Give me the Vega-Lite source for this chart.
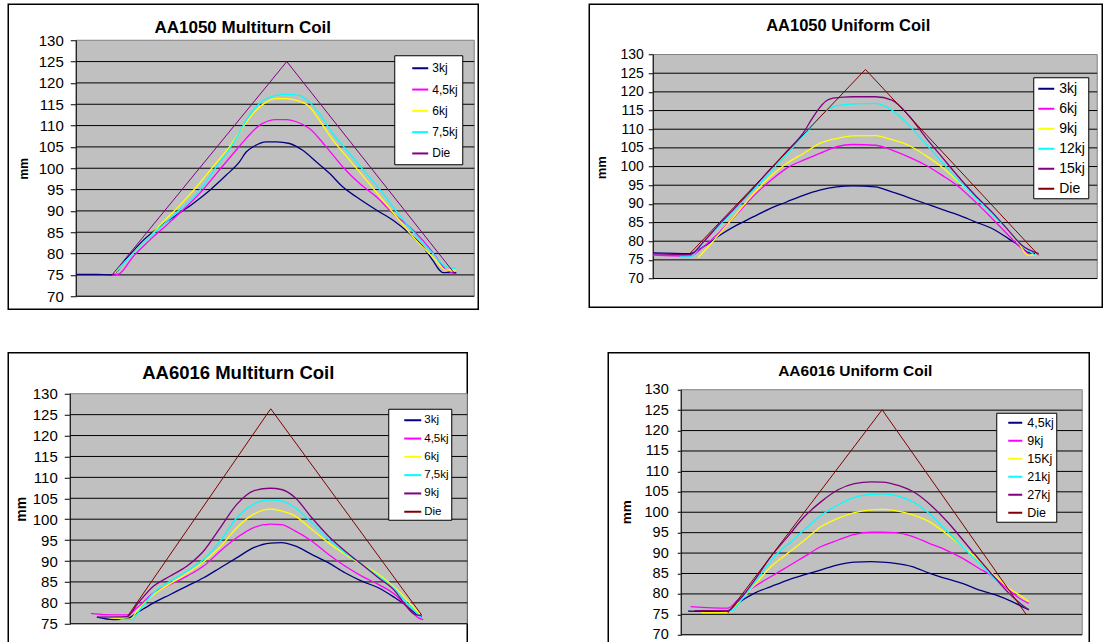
{
"$schema":"https://vega.github.io/schema/vega-lite/v6.json",
"background":"white",
"padding":{"left":7.25,"top":3.25,"right":0,"bottom":0},
"spacing":41.5,
"resolve":{"scale":{"color":"independent"}},
"config":{"view":{"stroke":"black","strokeWidth":1.5,"fill":"white"},
"axisY":{"labelOverlap":false,"tickCount":20,"grid":false,"domain":false,"tickColor":"black","labelColor":"black","labelFont":"Liberation Sans","titleFont":"Liberation Sans","titleFontWeight":"bold","titleColor":"black","titleAngle":270,"titleAlign":"center","titleBaseline":"middle"}},
"datasets":{
"g70":[{"g":75},{"g":80},{"g":85},{"g":90},{"g":95},{"g":100},{"g":105},{"g":110},{"g":115},{"g":120},{"g":125}],
"g75":[{"g":80},{"g":85},{"g":90},{"g":95},{"g":100},{"g":105},{"g":110},{"g":115},{"g":120},{"g":125}],
"p1":[
{"s":"3kj","x":0,"y":75.1},{"s":"3kj","x":5,"y":75.1},{"s":"3kj","x":9.0,"y":75.0},{"s":"3kj","x":12.6,"y":78.8},{"s":"3kj","x":16.8,"y":83.1},{"s":"3kj","x":20.9,"y":86.25},{"s":"3kj","x":25.1,"y":89.0},{"s":"3kj","x":29.3,"y":91.7},{"s":"3kj","x":33.5,"y":94.8},{"s":"3kj","x":37.7,"y":98.4},{"s":"3kj","x":41.0,"y":101.5},{"s":"3kj","x":42.7,"y":103.8},{"s":"3kj","x":44.4,"y":105.0},{"s":"3kj","x":47.7,"y":106.2},{"s":"3kj","x":50.25,"y":106.2},{"s":"3kj","x":53.6,"y":105.8},{"s":"3kj","x":56.9,"y":104.2},{"s":"3kj","x":60.3,"y":101.5},{"s":"3kj","x":63.7,"y":98.75},{"s":"3kj","x":67.0,"y":95.6},{"s":"3kj","x":70.35,"y":93.3},{"s":"3kj","x":75.4,"y":90.2},{"s":"3kj","x":79.6,"y":87.8},{"s":"3kj","x":83.75,"y":84.7},{"s":"3kj","x":87.1,"y":81.6},{"s":"3kj","x":89.6,"y":78.4},{"s":"3kj","x":91.3,"y":76.1},{"s":"3kj","x":92.1,"y":75.55},{"s":"3kj","x":95.5,"y":75.55},
{"s":"4,5kj","x":9.0,"y":74.85},{"s":"4,5kj","x":10.9,"y":75.3},{"s":"4,5kj","x":14.2,"y":79.2},{"s":"4,5kj","x":18.4,"y":83.1},{"s":"4,5kj","x":22.6,"y":86.6},{"s":"4,5kj","x":26.8,"y":90.2},{"s":"4,5kj","x":31.0,"y":94.1},{"s":"4,5kj","x":35.2,"y":98.75},{"s":"4,5kj","x":39.4,"y":103.4},{"s":"4,5kj","x":42.7,"y":107.0},{"s":"4,5kj","x":46.1,"y":110.1},{"s":"4,5kj","x":50.25,"y":111.4},{"s":"4,5kj","x":52.8,"y":111.4},{"s":"4,5kj","x":55.3,"y":110.9},{"s":"4,5kj","x":58.6,"y":109.3},{"s":"4,5kj","x":62.8,"y":105.0},{"s":"4,5kj","x":67.0,"y":100.3},{"s":"4,5kj","x":71.2,"y":96.4},{"s":"4,5kj","x":75.4,"y":93.3},{"s":"4,5kj","x":79.6,"y":89.4},{"s":"4,5kj","x":83.75,"y":86.25},{"s":"4,5kj","x":87.1,"y":83.1},{"s":"4,5kj","x":90.45,"y":79.2},{"s":"4,5kj","x":93.0,"y":76.1},{"s":"4,5kj","x":95.5,"y":75.3},
{"s":"6kj","x":9.6,"y":75.3},{"s":"6kj","x":13.4,"y":79.2},{"s":"6kj","x":17.6,"y":83.1},{"s":"6kj","x":21.8,"y":87.4},{"s":"6kj","x":26.0,"y":91.3},{"s":"6kj","x":30.2,"y":95.6},{"s":"6kj","x":34.3,"y":100.3},{"s":"6kj","x":38.5,"y":105.0},{"s":"6kj","x":41.9,"y":109.7},{"s":"6kj","x":45.2,"y":113.6},{"s":"6kj","x":47.7,"y":115.5},{"s":"6kj","x":50.25,"y":116.3},{"s":"6kj","x":52.8,"y":116.3},{"s":"6kj","x":55.3,"y":115.9},{"s":"6kj","x":58.6,"y":114.4},{"s":"6kj","x":61.1,"y":111.25},{"s":"6kj","x":64.5,"y":106.6},{"s":"6kj","x":68.7,"y":101.9},{"s":"6kj","x":72.9,"y":97.2},{"s":"6kj","x":77.05,"y":92.5},{"s":"6kj","x":81.2,"y":87.8},{"s":"6kj","x":85.4,"y":83.1},{"s":"6kj","x":89.6,"y":79.2},{"s":"6kj","x":93.0,"y":76.1},{"s":"6kj","x":95.5,"y":76.1},
{"s":"7,5kj","x":10.05,"y":75.7},{"s":"7,5kj","x":14.2,"y":80.0},{"s":"7,5kj","x":18.4,"y":83.9},{"s":"7,5kj","x":22.6,"y":87.4},{"s":"7,5kj","x":26.8,"y":90.9},{"s":"7,5kj","x":31.0,"y":94.8},{"s":"7,5kj","x":35.2,"y":100.3},{"s":"7,5kj","x":39.4,"y":105.8},{"s":"7,5kj","x":42.7,"y":111.25},{"s":"7,5kj","x":45.2,"y":114.4},{"s":"7,5kj","x":47.7,"y":116.3},{"s":"7,5kj","x":50.25,"y":117.1},{"s":"7,5kj","x":52.8,"y":117.3},{"s":"7,5kj","x":56.1,"y":117.1},{"s":"7,5kj","x":58.6,"y":115.5},{"s":"7,5kj","x":61.1,"y":112.8},{"s":"7,5kj","x":64.5,"y":108.1},{"s":"7,5kj","x":68.7,"y":103.4},{"s":"7,5kj","x":72.9,"y":98.75},{"s":"7,5kj","x":77.05,"y":94.1},{"s":"7,5kj","x":81.2,"y":89.0},{"s":"7,5kj","x":85.4,"y":84.3},{"s":"7,5kj","x":89.6,"y":80.0},{"s":"7,5kj","x":93.0,"y":76.9},{"s":"7,5kj","x":95.5,"y":76.5},
{"s":"Die","x":9.0,"y":75.0},{"s":"Die","x":52.9,"y":125.0},{"s":"Die","x":95.1,"y":75.3}
],
"p2":[
{"s":"3kj","x":0,"y":76.9},{"s":"3kj","x":8.26,"y":76.7},{"s":"3kj","x":11.3,"y":78.5},{"s":"3kj","x":15.0,"y":81.6},{"s":"3kj","x":18.8,"y":84.3},{"s":"3kj","x":22.5,"y":86.5},{"s":"3kj","x":26.3,"y":88.75},{"s":"3kj","x":30.0,"y":90.5},{"s":"3kj","x":33.8,"y":92.3},{"s":"3kj","x":37.5,"y":93.7},{"s":"3kj","x":41.3,"y":94.55},{"s":"3kj","x":45.0,"y":94.8},{"s":"3kj","x":50.0,"y":94.55},{"s":"3kj","x":53.75,"y":93.2},{"s":"3kj","x":57.5,"y":91.7},{"s":"3kj","x":61.3,"y":90.1},{"s":"3kj","x":65.0,"y":88.5},{"s":"3kj","x":68.8,"y":87.0},{"s":"3kj","x":72.5,"y":85.2},{"s":"3kj","x":76.3,"y":83.4},{"s":"3kj","x":80.0,"y":80.7},{"s":"3kj","x":82.3,"y":78.9},{"s":"3kj","x":84.2,"y":77.1},{"s":"3kj","x":86.0,"y":76.7},
{"s":"6kj","x":0,"y":76.3},{"s":"6kj","x":8.26,"y":76.0},{"s":"6kj","x":11.3,"y":78.5},{"s":"6kj","x":15.0,"y":82.5},{"s":"6kj","x":18.8,"y":87.2},{"s":"6kj","x":22.5,"y":92.0},{"s":"6kj","x":26.3,"y":96.1},{"s":"6kj","x":30.0,"y":99.5},{"s":"6kj","x":33.8,"y":101.7},{"s":"6kj","x":37.5,"y":103.5},{"s":"6kj","x":41.3,"y":105.3},{"s":"6kj","x":45.0,"y":105.9},{"s":"6kj","x":50.0,"y":105.7},{"s":"6kj","x":53.75,"y":104.4},{"s":"6kj","x":57.5,"y":102.6},{"s":"6kj","x":61.3,"y":100.4},{"s":"6kj","x":65.0,"y":97.7},{"s":"6kj","x":68.8,"y":94.6},{"s":"6kj","x":72.5,"y":90.6},{"s":"6kj","x":76.3,"y":86.1},{"s":"6kj","x":80.0,"y":81.6},{"s":"6kj","x":83.0,"y":78.0},{"s":"6kj","x":84.9,"y":76.3},
{"s":"9kj","x":10.1,"y":75.6},{"s":"9kj","x":12.4,"y":78.5},{"s":"9kj","x":15.0,"y":82.1},{"s":"9kj","x":18.8,"y":87.4},{"s":"9kj","x":22.5,"y":92.6},{"s":"9kj","x":26.3,"y":97.2},{"s":"9kj","x":30.0,"y":100.8},{"s":"9kj","x":33.8,"y":103.5},{"s":"9kj","x":37.5,"y":106.2},{"s":"9kj","x":41.3,"y":107.5},{"s":"9kj","x":45.0,"y":108.2},{"s":"9kj","x":50.0,"y":108.3},{"s":"9kj","x":53.75,"y":107.2},{"s":"9kj","x":57.5,"y":105.7},{"s":"9kj","x":61.3,"y":103.0},{"s":"9kj","x":65.0,"y":99.9},{"s":"9kj","x":68.8,"y":95.9},{"s":"9kj","x":72.5,"y":91.9},{"s":"9kj","x":76.3,"y":87.4},{"s":"9kj","x":80.0,"y":82.9},{"s":"9kj","x":82.3,"y":79.4},{"s":"9kj","x":84.5,"y":76.25},{"s":"9kj","x":86.0,"y":76.25},
{"s":"12kj","x":6.0,"y":75.8},{"s":"12kj","x":8.26,"y":75.8},{"s":"12kj","x":11.3,"y":79.8},{"s":"12kj","x":15.0,"y":84.4},{"s":"12kj","x":18.8,"y":89.0},{"s":"12kj","x":22.5,"y":93.7},{"s":"12kj","x":26.3,"y":98.4},{"s":"12kj","x":30.0,"y":103.3},{"s":"12kj","x":33.8,"y":108.2},{"s":"12kj","x":37.5,"y":113.3},{"s":"12kj","x":39.4,"y":115.3},{"s":"12kj","x":41.3,"y":116.3},{"s":"12kj","x":45.0,"y":116.8},{"s":"12kj","x":50.0,"y":116.9},{"s":"12kj","x":53.75,"y":115.1},{"s":"12kj","x":57.5,"y":111.1},{"s":"12kj","x":61.3,"y":106.2},{"s":"12kj","x":65.0,"y":101.25},{"s":"12kj","x":68.8,"y":96.3},{"s":"12kj","x":72.5,"y":91.9},{"s":"12kj","x":76.3,"y":87.4},{"s":"12kj","x":80.0,"y":82.9},{"s":"12kj","x":83.0,"y":78.9},{"s":"12kj","x":86.0,"y":76.25},
{"s":"15kj","x":0,"y":76.7},{"s":"15kj","x":8.26,"y":76.4},{"s":"15kj","x":11.3,"y":79.8},{"s":"15kj","x":15.0,"y":84.7},{"s":"15kj","x":18.8,"y":89.4},{"s":"15kj","x":22.5,"y":94.2},{"s":"15kj","x":26.3,"y":99.2},{"s":"15kj","x":30.0,"y":104.0},{"s":"15kj","x":33.8,"y":109.0},{"s":"15kj","x":35.6,"y":112.5},{"s":"15kj","x":37.5,"y":115.8},{"s":"15kj","x":39.0,"y":117.6},{"s":"15kj","x":40.5,"y":118.3},{"s":"15kj","x":45.0,"y":118.7},{"s":"15kj","x":50.0,"y":118.7},{"s":"15kj","x":53.75,"y":117.8},{"s":"15kj","x":57.5,"y":113.75},{"s":"15kj","x":61.3,"y":107.9},{"s":"15kj","x":65.0,"y":102.6},{"s":"15kj","x":68.8,"y":97.2},{"s":"15kj","x":72.5,"y":92.3},{"s":"15kj","x":76.3,"y":87.8},{"s":"15kj","x":80.0,"y":82.9},{"s":"15kj","x":83.0,"y":78.9},{"s":"15kj","x":86.8,"y":76.7},
{"s":"Die","x":8.26,"y":76.7},{"s":"Die","x":47.8,"y":126.0},{"s":"Die","x":86.8,"y":76.25}
],
"p3":[
{"s":"3kj","x":6.7,"y":76.6},{"s":"3kj","x":10.9,"y":76.0},{"s":"3kj","x":14.3,"y":76.2},{"s":"3kj","x":16.8,"y":77.6},{"s":"3kj","x":21.0,"y":80.0},{"s":"3kj","x":25.2,"y":82.0},{"s":"3kj","x":29.4,"y":84.0},{"s":"3kj","x":33.6,"y":86.0},{"s":"3kj","x":37.8,"y":88.4},{"s":"3kj","x":42.0,"y":90.8},{"s":"3kj","x":46.2,"y":93.2},{"s":"3kj","x":50.4,"y":94.3},{"s":"3kj","x":53.2,"y":94.4},{"s":"3kj","x":56.6,"y":93.6},{"s":"3kj","x":60.8,"y":91.6},{"s":"3kj","x":65.0,"y":89.6},{"s":"3kj","x":69.2,"y":87.2},{"s":"3kj","x":73.4,"y":85.2},{"s":"3kj","x":77.6,"y":83.6},{"s":"3kj","x":81.8,"y":81.2},{"s":"3kj","x":84.3,"y":79.6},{"s":"3kj","x":86.8,"y":77.6},{"s":"3kj","x":88.5,"y":76.6},
{"s":"4,5kj","x":5.2,"y":77.5},{"s":"4,5kj","x":8.4,"y":77.2},{"s":"4,5kj","x":14.3,"y":77.1},{"s":"4,5kj","x":16.8,"y":78.8},{"s":"4,5kj","x":21.0,"y":82.4},{"s":"4,5kj","x":25.2,"y":84.4},{"s":"4,5kj","x":29.4,"y":86.4},{"s":"4,5kj","x":33.6,"y":88.8},{"s":"4,5kj","x":37.8,"y":92.4},{"s":"4,5kj","x":42.0,"y":95.6},{"s":"4,5kj","x":46.2,"y":98.0},{"s":"4,5kj","x":50.4,"y":98.8},{"s":"4,5kj","x":53.2,"y":98.7},{"s":"4,5kj","x":56.6,"y":97.2},{"s":"4,5kj","x":60.8,"y":94.8},{"s":"4,5kj","x":65.0,"y":91.6},{"s":"4,5kj","x":69.2,"y":88.8},{"s":"4,5kj","x":73.4,"y":86.4},{"s":"4,5kj","x":77.6,"y":84.4},{"s":"4,5kj","x":81.8,"y":82.0},{"s":"4,5kj","x":85.1,"y":78.8},{"s":"4,5kj","x":87.7,"y":76.4},{"s":"4,5kj","x":88.9,"y":76.0},
{"s":"6kj","x":9.2,"y":76.6},{"s":"6kj","x":15.1,"y":76.1},{"s":"6kj","x":16.8,"y":78.0},{"s":"6kj","x":21.0,"y":82.0},{"s":"6kj","x":25.2,"y":84.6},{"s":"6kj","x":29.4,"y":87.0},{"s":"6kj","x":33.6,"y":89.8},{"s":"6kj","x":37.8,"y":93.4},{"s":"6kj","x":42.0,"y":98.0},{"s":"6kj","x":46.2,"y":101.2},{"s":"6kj","x":50.4,"y":102.4},{"s":"6kj","x":53.2,"y":102.0},{"s":"6kj","x":56.6,"y":100.8},{"s":"6kj","x":60.8,"y":97.6},{"s":"6kj","x":65.0,"y":94.4},{"s":"6kj","x":69.2,"y":91.6},{"s":"6kj","x":73.4,"y":89.2},{"s":"6kj","x":77.6,"y":86.8},{"s":"6kj","x":81.8,"y":83.6},{"s":"6kj","x":85.1,"y":80.4},{"s":"6kj","x":88.1,"y":77.2},
{"s":"7,5kj","x":12.6,"y":76.1},{"s":"7,5kj","x":15.5,"y":76.0},{"s":"7,5kj","x":17.6,"y":78.4},{"s":"7,5kj","x":21.0,"y":82.4},{"s":"7,5kj","x":25.2,"y":85.2},{"s":"7,5kj","x":29.4,"y":87.6},{"s":"7,5kj","x":33.6,"y":90.4},{"s":"7,5kj","x":37.8,"y":94.8},{"s":"7,5kj","x":42.0,"y":100.4},{"s":"7,5kj","x":46.2,"y":103.6},{"s":"7,5kj","x":50.4,"y":104.6},{"s":"7,5kj","x":53.2,"y":104.4},{"s":"7,5kj","x":56.6,"y":102.8},{"s":"7,5kj","x":60.8,"y":99.2},{"s":"7,5kj","x":65.0,"y":95.2},{"s":"7,5kj","x":69.2,"y":92.0},{"s":"7,5kj","x":73.4,"y":89.2},{"s":"7,5kj","x":77.6,"y":86.4},{"s":"7,5kj","x":81.8,"y":83.2},{"s":"7,5kj","x":85.1,"y":79.6},{"s":"7,5kj","x":88.5,"y":76.4},
{"s":"9kj","x":6.7,"y":76.6},{"s":"9kj","x":14.3,"y":76.7},{"s":"9kj","x":16.8,"y":79.6},{"s":"9kj","x":21.0,"y":84.0},{"s":"9kj","x":25.2,"y":86.4},{"s":"9kj","x":29.4,"y":88.8},{"s":"9kj","x":33.6,"y":92.4},{"s":"9kj","x":37.8,"y":98.0},{"s":"9kj","x":42.0,"y":103.6},{"s":"9kj","x":46.2,"y":106.8},{"s":"9kj","x":50.4,"y":107.4},{"s":"9kj","x":53.2,"y":107.1},{"s":"9kj","x":56.6,"y":105.2},{"s":"9kj","x":60.8,"y":100.4},{"s":"9kj","x":65.0,"y":96.0},{"s":"9kj","x":69.2,"y":92.4},{"s":"9kj","x":73.4,"y":89.2},{"s":"9kj","x":77.6,"y":86.0},{"s":"9kj","x":81.8,"y":82.8},{"s":"9kj","x":84.3,"y":79.6},{"s":"9kj","x":86.8,"y":77.2},{"s":"9kj","x":88.5,"y":77.0},
{"s":"Die","x":14.3,"y":76.6},{"s":"Die","x":50.5,"y":126.4},{"s":"Die","x":88.5,"y":77.1}
],
"p4":[
{"s":"4,5kj","x":1.7,"y":75.8},{"s":"4,5kj","x":11.6,"y":75.7},{"s":"4,5kj","x":14.1,"y":77.7},{"s":"4,5kj","x":18.3,"y":80.2},{"s":"4,5kj","x":22.4,"y":81.8},{"s":"4,5kj","x":26.6,"y":83.4},{"s":"4,5kj","x":30.8,"y":84.7},{"s":"4,5kj","x":34.9,"y":85.9},{"s":"4,5kj","x":39.1,"y":87.1},{"s":"4,5kj","x":43.2,"y":87.8},{"s":"4,5kj","x":47.4,"y":87.9},{"s":"4,5kj","x":50.1,"y":87.8},{"s":"4,5kj","x":53.4,"y":87.5},{"s":"4,5kj","x":57.6,"y":86.7},{"s":"4,5kj","x":61.8,"y":85.1},{"s":"4,5kj","x":65.9,"y":83.8},{"s":"4,5kj","x":70.1,"y":82.6},{"s":"4,5kj","x":74.2,"y":81.0},{"s":"4,5kj","x":78.4,"y":79.75},{"s":"4,5kj","x":82.5,"y":78.1},{"s":"4,5kj","x":85.0,"y":76.9},{"s":"4,5kj","x":86.7,"y":76.1},
{"s":"9kj","x":2.3,"y":76.9},{"s":"9kj","x":11.6,"y":76.5},{"s":"9kj","x":14.1,"y":78.5},{"s":"9kj","x":18.3,"y":81.8},{"s":"9kj","x":22.4,"y":84.25},{"s":"9kj","x":26.6,"y":86.7},{"s":"9kj","x":30.8,"y":89.2},{"s":"9kj","x":34.9,"y":91.6},{"s":"9kj","x":39.1,"y":93.2},{"s":"9kj","x":43.2,"y":94.6},{"s":"9kj","x":47.4,"y":95.1},{"s":"9kj","x":50.1,"y":95.1},{"s":"9kj","x":53.4,"y":95.0},{"s":"9kj","x":57.6,"y":94.1},{"s":"9kj","x":61.8,"y":92.4},{"s":"9kj","x":65.9,"y":90.8},{"s":"9kj","x":70.1,"y":88.75},{"s":"9kj","x":74.2,"y":86.3},{"s":"9kj","x":78.4,"y":83.8},{"s":"9kj","x":81.7,"y":81.0},{"s":"9kj","x":85.0,"y":78.5},{"s":"9kj","x":86.7,"y":77.7},
{"s":"15Kj","x":5.0,"y":75.4},{"s":"15Kj","x":11.6,"y":75.4},{"s":"15Kj","x":14.1,"y":77.7},{"s":"15Kj","x":18.3,"y":82.2},{"s":"15Kj","x":22.4,"y":86.7},{"s":"15Kj","x":26.6,"y":90.0},{"s":"15Kj","x":30.8,"y":93.2},{"s":"15Kj","x":34.9,"y":96.5},{"s":"15Kj","x":39.1,"y":98.5},{"s":"15Kj","x":43.2,"y":99.9},{"s":"15Kj","x":47.4,"y":100.6},{"s":"15Kj","x":50.1,"y":100.7},{"s":"15Kj","x":53.4,"y":100.4},{"s":"15Kj","x":57.6,"y":99.4},{"s":"15Kj","x":61.8,"y":97.7},{"s":"15Kj","x":65.9,"y":94.9},{"s":"15Kj","x":70.1,"y":91.6},{"s":"15Kj","x":74.2,"y":88.3},{"s":"15Kj","x":78.4,"y":84.25},{"s":"15Kj","x":81.7,"y":81.4},{"s":"15Kj","x":85.0,"y":79.3},{"s":"15Kj","x":86.7,"y":78.1},
{"s":"21kj","x":5.0,"y":76.1},{"s":"21kj","x":12.5,"y":75.9},{"s":"21kj","x":15.0,"y":78.5},{"s":"21kj","x":19.1,"y":83.8},{"s":"21kj","x":23.3,"y":89.2},{"s":"21kj","x":27.4,"y":92.8},{"s":"21kj","x":31.6,"y":96.5},{"s":"21kj","x":35.7,"y":99.8},{"s":"21kj","x":39.9,"y":102.2},{"s":"21kj","x":44.1,"y":103.9},{"s":"21kj","x":47.4,"y":104.4},{"s":"21kj","x":50.1,"y":104.5},{"s":"21kj","x":54.3,"y":103.9},{"s":"21kj","x":58.4,"y":102.2},{"s":"21kj","x":62.6,"y":99.0},{"s":"21kj","x":66.7,"y":94.9},{"s":"21kj","x":70.9,"y":90.8},{"s":"21kj","x":75.1,"y":86.7},{"s":"21kj","x":78.4,"y":83.4},{"s":"21kj","x":81.7,"y":80.2},{"s":"21kj","x":85.0,"y":77.3},{"s":"21kj","x":86.3,"y":76.5},
{"s":"27kj","x":3.3,"y":75.9},{"s":"27kj","x":11.6,"y":75.9},{"s":"27kj","x":14.1,"y":78.1},{"s":"27kj","x":18.3,"y":83.4},{"s":"27kj","x":22.4,"y":89.2},{"s":"27kj","x":26.6,"y":94.1},{"s":"27kj","x":30.8,"y":99.0},{"s":"27kj","x":34.9,"y":102.6},{"s":"27kj","x":39.1,"y":105.5},{"s":"27kj","x":43.2,"y":107.0},{"s":"27kj","x":47.4,"y":107.45},{"s":"27kj","x":50.1,"y":107.4},{"s":"27kj","x":54.3,"y":106.5},{"s":"27kj","x":58.4,"y":104.7},{"s":"27kj","x":62.6,"y":101.4},{"s":"27kj","x":66.7,"y":97.3},{"s":"27kj","x":70.9,"y":92.4},{"s":"27kj","x":75.1,"y":87.5},{"s":"27kj","x":78.4,"y":83.8},{"s":"27kj","x":81.7,"y":80.2},{"s":"27kj","x":85.0,"y":77.3},{"s":"27kj","x":86.7,"y":76.1},
{"s":"Die","x":11.6,"y":75.3},{"s":"Die","x":50.1,"y":125.1},{"s":"Die","x":86.0,"y":75.0}
]
},
"vconcat":[
{"hconcat":[
{"width":470,"height":305,
"layer":[
{"data":{"values":[{}]},"mark":{"type":"rect","fill":"#C0C0C0","stroke":"#808080","strokeWidth":1},
"encoding":{"x":{"datum":0,"type":"quantitative","scale":{"domain":[-17.09,101.01],"nice":false,"zero":false},"axis":null},"x2":{"datum":100},"y":{"datum":70,"type":"quantitative","scale":{"domain":[66.95,138.44],"nice":false,"zero":false}},"y2":{"datum":130}}},
{"data":{"name":"g70"},"mark":{"type":"rule","color":"black","strokeWidth":1},
"encoding":{"x":{"datum":0,"type":"quantitative","scale":{"domain":[-17.09,101.01],"nice":false,"zero":false},"axis":null},"x2":{"datum":100},"y":{"field":"g","type":"quantitative","scale":{"domain":[66.95,138.44],"nice":false,"zero":false}}}},
{"data":{"values":[{}]},"mark":{"type":"rule","color":"black","strokeWidth":1},
"encoding":{"x":{"datum":0,"type":"quantitative","scale":{"domain":[-17.09,101.01],"nice":false,"zero":false},"axis":null},"y":{"datum":70,"type":"quantitative","scale":{"domain":[66.95,138.44],"nice":false,"zero":false}},"y2":{"datum":130}}},
{"data":{"values":[{}]},"mark":{"type":"rule","color":"black","strokeWidth":1},
"encoding":{"x":{"datum":0,"type":"quantitative","scale":{"domain":[-17.09,101.01],"nice":false,"zero":false},"axis":null},"x2":{"datum":100},"y":{"datum":70,"type":"quantitative","scale":{"domain":[66.95,138.44],"nice":false,"zero":false}}}},
{"data":{"name":"p1"},"transform":[{"filter":"datum.s !== 'Die'"}],"mark":{"type":"line","strokeWidth":1.3,"interpolate":"monotone"},
"encoding":{"x":{"field":"x","type":"quantitative","scale":{"domain":[-17.09,101.01],"nice":false,"zero":false},"axis":null},
"y":{"field":"y","type":"quantitative","scale":{"domain":[66.95,138.44],"nice":false,"zero":false},
"axis":{"title":"mm","values":[70,75,80,85,90,95,100,105,110,115,120,125,130],"tickCount":20,"labelOverlap":false,"tickSize":6,"labelFontSize":15,"labelPadding":7,"offset":-68,"orient":"left","titleFontSize":12,"titleX":-53,"titleY":164}},
"color":{"field":"s","type":"nominal","scale":{"domain":["3kj","4,5kj","6kj","7,5kj","Die"],"range":["#000080","#FF00FF","#FFFF00","#00FFFF","#800080"]},
"legend":{"orient":"none","legendX":386,"legendY":51,"title":null,"fillColor":"white","strokeColor":"black","padding":4,"symbolType":"stroke","symbolSize":256,"symbolStrokeWidth":2,"symbolOffset":13,"labelFont":"Liberation Sans","labelFontSize":12,"labelColor":"black","labelOffset":3,"rowPadding":6.3}}}},
{"data":{"name":"p1"},"transform":[{"filter":"datum.s === 'Die'"}],"mark":{"type":"line","strokeWidth":1},
"encoding":{"x":{"field":"x","type":"quantitative","scale":{"domain":[-17.09,101.01],"nice":false,"zero":false},"axis":null},"y":{"field":"y","type":"quantitative","scale":{"domain":[66.95,138.44],"nice":false,"zero":false}},
"color":{"field":"s","type":"nominal","scale":{"domain":["3kj","4,5kj","6kj","7,5kj","Die"],"range":["#000080","#FF00FF","#FFFF00","#00FFFF","#800080"]},"legend":null}}},
{"data":{"values":[{"t":"AA1050 Multiturn Coil"}]},"mark":{"type":"text","font":"Liberation Sans","fontSize":17,"fontWeight":"bold","color":"black","align":"center","baseline":"alphabetic"},
"encoding":{"x":{"datum":41.83,"type":"quantitative","scale":{"domain":[-17.09,101.01],"nice":false,"zero":false},"axis":null},"y":{"datum":131.71,"type":"quantitative","scale":{"domain":[66.95,138.44],"nice":false,"zero":false}},"text":{"field":"t"}}}
]},
{"width":513,"height":303,
"layer":[
{"data":{"values":[{}]},"mark":{"type":"rect","fill":"#C0C0C0","stroke":"#808080","strokeWidth":1},
"encoding":{"x":{"datum":0,"type":"quantitative","scale":{"domain":[-14.41,101.13],"nice":false,"zero":false},"axis":null},"x2":{"datum":100},"y":{"datum":70,"type":"quantitative","scale":{"domain":[62.31,143.47],"nice":false,"zero":false}},"y2":{"datum":130}}},
{"data":{"name":"g70"},"mark":{"type":"rule","color":"black","strokeWidth":1},
"encoding":{"x":{"datum":0,"type":"quantitative","scale":{"domain":[-14.41,101.13],"nice":false,"zero":false},"axis":null},"x2":{"datum":100},"y":{"field":"g","type":"quantitative","scale":{"domain":[62.31,143.47],"nice":false,"zero":false}}}},
{"data":{"values":[{}]},"mark":{"type":"rule","color":"black","strokeWidth":1},
"encoding":{"x":{"datum":0,"type":"quantitative","scale":{"domain":[-14.41,101.13],"nice":false,"zero":false},"axis":null},"y":{"datum":70,"type":"quantitative","scale":{"domain":[62.31,143.47],"nice":false,"zero":false}},"y2":{"datum":130}}},
{"data":{"values":[{}]},"mark":{"type":"rule","color":"black","strokeWidth":1},
"encoding":{"x":{"datum":0,"type":"quantitative","scale":{"domain":[-14.41,101.13],"nice":false,"zero":false},"axis":null},"x2":{"datum":100},"y":{"datum":70,"type":"quantitative","scale":{"domain":[62.31,143.47],"nice":false,"zero":false}}}},
{"data":{"name":"p2"},"transform":[{"filter":"datum.s !== 'Die'"}],"mark":{"type":"line","strokeWidth":1.3,"interpolate":"monotone"},
"encoding":{"x":{"field":"x","type":"quantitative","scale":{"domain":[-14.41,101.13],"nice":false,"zero":false},"axis":null},
"y":{"field":"y","type":"quantitative","scale":{"domain":[62.31,143.47],"nice":false,"zero":false},
"axis":{"title":"mm","values":[70,75,80,85,90,95,100,105,110,115,120,125,130],"tickCount":20,"labelOverlap":false,"tickSize":5,"labelFontSize":14,"labelPadding":5,"offset":-64,"orient":"left","titleFontSize":13,"titleX":-52,"titleY":163}},
"color":{"field":"s","type":"nominal","scale":{"domain":["3kj","6kj","9kj","12kj","15kj","Die"],"range":["#000080","#FF00FF","#FFFF00","#00FFFF","#800080","#800000"]},
"legend":{"orient":"none","legendX":444,"legendY":73,"title":null,"fillColor":"white","strokeColor":"black","padding":2.5,"symbolType":"stroke","symbolSize":256,"symbolStrokeWidth":2,"symbolOffset":1.5,"labelFont":"Liberation Sans","labelFontSize":14,"labelColor":"black","labelOffset":4,"rowPadding":4}}}},
{"data":{"name":"p2"},"transform":[{"filter":"datum.s === 'Die'"}],"mark":{"type":"line","strokeWidth":1},
"encoding":{"x":{"field":"x","type":"quantitative","scale":{"domain":[-14.41,101.13],"nice":false,"zero":false},"axis":null},"y":{"field":"y","type":"quantitative","scale":{"domain":[62.31,143.47],"nice":false,"zero":false}},
"color":{"field":"s","type":"nominal","scale":{"domain":["3kj","6kj","9kj","12kj","15kj","Die"],"range":["#000080","#FF00FF","#FFFF00","#00FFFF","#800080","#800000"]},"legend":null}}},
{"data":{"values":[{"t":"AA1050 Uniform Coil"}]},"mark":{"type":"text","font":"Liberation Sans","fontSize":16.5,"fontWeight":"bold","color":"black","align":"center","baseline":"alphabetic"},
"encoding":{"x":{"datum":43.92,"type":"quantitative","scale":{"domain":[-14.41,101.13],"nice":false,"zero":false},"axis":null},"y":{"datum":136.19,"type":"quantitative","scale":{"domain":[62.31,143.47],"nice":false,"zero":false}},"text":{"field":"t"}}}
]}
],"spacing":111,"bounds":"flush","resolve":{"scale":{"color":"independent"}}},
{"hconcat":[
{"width":459,"height":308,
"layer":[
{"data":{"values":[{}]},"mark":{"type":"rect","fill":"#C0C0C0","stroke":"#808080","strokeWidth":1},
"encoding":{"x":{"datum":0,"type":"quantitative","scale":{"domain":[-15.62,100],"nice":false,"zero":false},"axis":null},"x2":{"datum":100},"y":{"datum":75,"type":"quantitative","scale":{"domain":[66.15,139.8],"nice":false,"zero":false}},"y2":{"datum":130}}},
{"data":{"name":"g75"},"mark":{"type":"rule","color":"black","strokeWidth":1},
"encoding":{"x":{"datum":0,"type":"quantitative","scale":{"domain":[-15.62,100],"nice":false,"zero":false},"axis":null},"x2":{"datum":100},"y":{"field":"g","type":"quantitative","scale":{"domain":[66.15,139.8],"nice":false,"zero":false}}}},
{"data":{"values":[{}]},"mark":{"type":"rule","color":"black","strokeWidth":1},
"encoding":{"x":{"datum":0,"type":"quantitative","scale":{"domain":[-15.62,100],"nice":false,"zero":false},"axis":null},"y":{"datum":75,"type":"quantitative","scale":{"domain":[66.15,139.8],"nice":false,"zero":false}},"y2":{"datum":130}}},
{"data":{"values":[{}]},"mark":{"type":"rule","color":"black","strokeWidth":1},
"encoding":{"x":{"datum":0,"type":"quantitative","scale":{"domain":[-15.62,100],"nice":false,"zero":false},"axis":null},"x2":{"datum":100},"y":{"datum":75,"type":"quantitative","scale":{"domain":[66.15,139.8],"nice":false,"zero":false}}}},
{"data":{"name":"p3"},"transform":[{"filter":"datum.s !== 'Die'"}],"mark":{"type":"line","strokeWidth":1.3,"interpolate":"monotone"},
"encoding":{"x":{"field":"x","type":"quantitative","scale":{"domain":[-15.62,100],"nice":false,"zero":false},"axis":null},
"y":{"field":"y","type":"quantitative","scale":{"domain":[66.15,139.8],"nice":false,"zero":false},
"axis":{"title":"mm","values":[75,80,85,90,95,100,105,110,115,120,125,130],"tickCount":20,"labelOverlap":false,"tickSize":6,"labelFontSize":15,"labelPadding":7,"offset":-62,"orient":"left","titleFontSize":14,"titleX":-49,"titleY":156}},
"color":{"field":"s","type":"nominal","scale":{"domain":["3kj","4,5kj","6kj","7,5kj","9kj","Die"],"range":["#000080","#FF00FF","#FFFF00","#00FFFF","#800080","#800000"]},
"legend":{"orient":"none","legendX":380,"legendY":56,"title":null,"fillColor":"white","strokeColor":"black","padding":2,"symbolType":"stroke","symbolSize":289,"symbolStrokeWidth":2,"symbolOffset":13,"labelFont":"Liberation Sans","labelFontSize":11.5,"labelColor":"black","labelOffset":2,"rowPadding":3.3}}}},
{"data":{"name":"p3"},"transform":[{"filter":"datum.s === 'Die'"}],"mark":{"type":"line","strokeWidth":1},
"encoding":{"x":{"field":"x","type":"quantitative","scale":{"domain":[-15.62,100],"nice":false,"zero":false},"axis":null},"y":{"field":"y","type":"quantitative","scale":{"domain":[66.15,139.8],"nice":false,"zero":false}},
"color":{"field":"s","type":"nominal","scale":{"domain":["3kj","4,5kj","6kj","7,5kj","9kj","Die"],"range":["#000080","#FF00FF","#FFFF00","#00FFFF","#800080","#800000"]},"legend":null}}},
{"data":{"values":[{"t":"AA6016 Multiturn Coil"}]},"mark":{"type":"text","font":"Liberation Sans","fontSize":18.5,"fontWeight":"bold","color":"black","align":"center","baseline":"alphabetic"},
"encoding":{"x":{"datum":42.32,"type":"quantitative","scale":{"domain":[-15.62,100],"nice":false,"zero":false},"axis":null},"y":{"datum":133.54,"type":"quantitative","scale":{"domain":[66.15,139.8],"nice":false,"zero":false}},"text":{"field":"t"}}}
]},
{"width":481,"height":308,
"layer":[
{"data":{"values":[{}]},"mark":{"type":"rect","fill":"#C0C0C0","stroke":"#808080","strokeWidth":1},
"encoding":{"x":{"datum":0,"type":"quantitative","scale":{"domain":[-18.2,101.75],"nice":false,"zero":false},"axis":null},"x2":{"datum":100},"y":{"datum":70,"type":"quantitative","scale":{"domain":[63.63,139.06],"nice":false,"zero":false}},"y2":{"datum":130}}},
{"data":{"name":"g70"},"mark":{"type":"rule","color":"black","strokeWidth":1},
"encoding":{"x":{"datum":0,"type":"quantitative","scale":{"domain":[-18.2,101.75],"nice":false,"zero":false},"axis":null},"x2":{"datum":100},"y":{"field":"g","type":"quantitative","scale":{"domain":[63.63,139.06],"nice":false,"zero":false}}}},
{"data":{"values":[{}]},"mark":{"type":"rule","color":"black","strokeWidth":1},
"encoding":{"x":{"datum":0,"type":"quantitative","scale":{"domain":[-18.2,101.75],"nice":false,"zero":false},"axis":null},"y":{"datum":70,"type":"quantitative","scale":{"domain":[63.63,139.06],"nice":false,"zero":false}},"y2":{"datum":130}}},
{"data":{"values":[{}]},"mark":{"type":"rule","color":"black","strokeWidth":1},
"encoding":{"x":{"datum":0,"type":"quantitative","scale":{"domain":[-18.2,101.75],"nice":false,"zero":false},"axis":null},"x2":{"datum":100},"y":{"datum":70,"type":"quantitative","scale":{"domain":[63.63,139.06],"nice":false,"zero":false}}}},
{"data":{"name":"p4"},"transform":[{"filter":"datum.s !== 'Die'"}],"mark":{"type":"line","strokeWidth":1.3,"interpolate":"monotone"},
"encoding":{"x":{"field":"x","type":"quantitative","scale":{"domain":[-18.2,101.75],"nice":false,"zero":false},"axis":null},
"y":{"field":"y","type":"quantitative","scale":{"domain":[63.63,139.06],"nice":false,"zero":false},
"axis":{"title":"mm","values":[70,75,80,85,90,95,100,105,110,115,120,125,130],"tickCount":20,"labelOverlap":false,"tickSize":4,"labelFontSize":14.5,"labelPadding":9,"offset":-73,"orient":"left","titleFontSize":13.5,"titleX":-55,"titleY":159}},
"color":{"field":"s","type":"nominal","scale":{"domain":["4,5kj","9kj","15Kj","21kj","27kj","Die"],"range":["#000080","#FF00FF","#FFFF00","#00FFFF","#800080","#800000"]},
"legend":{"orient":"none","legendX":388,"legendY":60,"title":null,"fillColor":"white","strokeColor":"black","padding":2,"symbolType":"stroke","symbolSize":196,"symbolStrokeWidth":2,"symbolOffset":9,"labelFont":"Liberation Sans","labelFontSize":12.5,"labelColor":"black","labelOffset":4,"rowPadding":3}}}},
{"data":{"name":"p4"},"transform":[{"filter":"datum.s === 'Die'"}],"mark":{"type":"line","strokeWidth":1},
"encoding":{"x":{"field":"x","type":"quantitative","scale":{"domain":[-18.2,101.75],"nice":false,"zero":false},"axis":null},"y":{"field":"y","type":"quantitative","scale":{"domain":[63.63,139.06],"nice":false,"zero":false}},
"color":{"field":"s","type":"nominal","scale":{"domain":["4,5kj","9kj","15Kj","21kj","27kj","Die"],"range":["#000080","#FF00FF","#FFFF00","#00FFFF","#800080","#800000"]},"legend":null}}},
{"data":{"values":[{"t":"AA6016 Uniform Coil"}]},"mark":{"type":"text","font":"Liberation Sans","fontSize":15.5,"fontWeight":"bold","color":"black","align":"center","baseline":"alphabetic"},
"encoding":{"x":{"datum":43.39,"type":"quantitative","scale":{"domain":[-18.2,101.75],"nice":false,"zero":false},"axis":null},"y":{"datum":133.43,"type":"quantitative","scale":{"domain":[63.63,139.06],"nice":false,"zero":false}},"text":{"field":"t"}}}
]}
],"spacing":141,"bounds":"flush","resolve":{"scale":{"color":"independent"}}}
]
}
